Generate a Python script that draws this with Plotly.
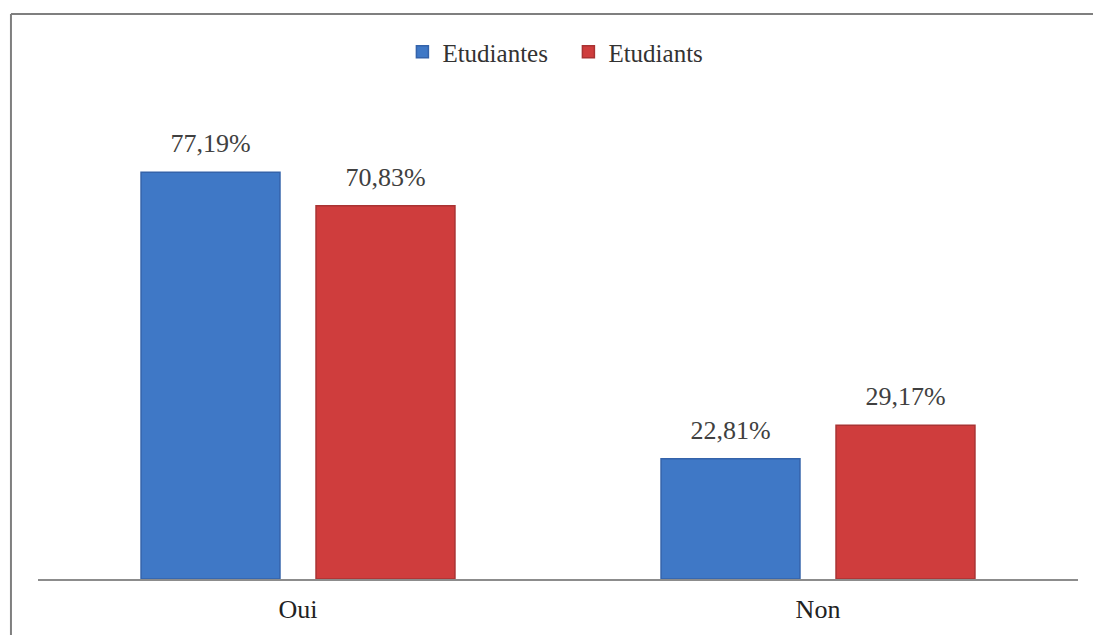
import plotly.graph_objects as go

categories = ["Oui", "Non"]
etudiantes = [77.19, 22.81]
etudiants = [70.83, 29.17]
labels_f = ["77,19%", "22,81%"]
labels_m = ["70,83%", "29,17%"]

font_family = "Liberation Serif"
label_font = dict(family=font_family, size=26, color="#404040")

fig = go.Figure()
fig.add_trace(go.Bar(
    name="Etudiantes", x=categories, y=etudiantes, offsetgroup="f",
    marker=dict(color="#3F78C6", line=dict(color="#3463AA", width=1.5)),
))
fig.add_trace(go.Bar(
    name="Etudiants", x=categories, y=etudiants, offsetgroup="m",
    marker=dict(color="#CF3D3D", line=dict(color="#A93333", width=1.5)),
))
# value labels, aligned with the grouped bars
fig.add_trace(go.Scatter(
    x=categories, y=etudiantes, text=labels_f, mode="markers+text",
    textposition="top center", offsetgroup="f", showlegend=False, hoverinfo="skip",
    marker=dict(size=20, opacity=0), textfont=label_font, cliponaxis=False,
))
fig.add_trace(go.Scatter(
    x=categories, y=etudiants, text=labels_m, mode="markers+text",
    textposition="top center", offsetgroup="m", showlegend=False, hoverinfo="skip",
    marker=dict(size=20, opacity=0), textfont=label_font, cliponaxis=False,
))

fig.update_layout(
    width=1093, height=635,
    margin=dict(l=38, r=15, t=52, b=56),
    paper_bgcolor="white", plot_bgcolor="white",
    barmode="group", bargap=0.327, bargroupgap=0.206,
    scattermode="group", scattergap=0.327,
    font=dict(family=font_family, size=25, color="#222222"),
    showlegend=True,
    legend=dict(orientation="h", x=0.510, xanchor="center", y=1.0, yanchor="middle",
                font=dict(family=font_family, size=25, color="#333333"),
                itemwidth=30, entrywidth=121, traceorder="normal", bgcolor="rgba(0,0,0,0)"),
    xaxis=dict(showline=True, linecolor="#8C8C8C", linewidth=1.5, ticks="",
               tickfont=dict(family=font_family, size=26, color="#222222"),
               ticklabelstandoff=6, automargin=False,
               showgrid=False, zeroline=False),
    yaxis=dict(range=[0, 100], visible=False, showgrid=False, zeroline=False,
               automargin=False),
    shapes=[
        dict(type="line", xref="paper", yref="paper", x0=-0.026, x1=1.1, y0=1.072, y1=1.072,
             line=dict(color="#7F7F7F", width=2)),
        dict(type="line", xref="paper", yref="paper", x0=-0.026, x1=-0.026, y0=-0.2, y1=1.072,
             line=dict(color="#7F7F7F", width=2)),
    ],
)

fig.write_html("out.html")
